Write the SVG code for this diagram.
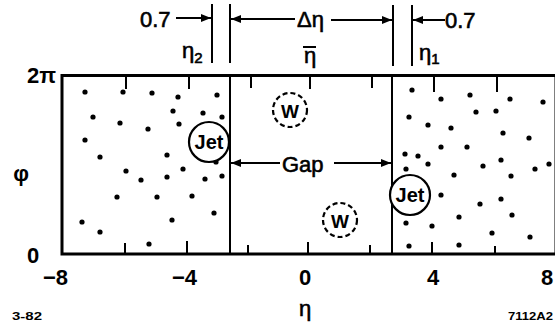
<svg xmlns="http://www.w3.org/2000/svg" width="555" height="328" viewBox="0 0 555 328">
<style>
.ln{stroke:#000;stroke-width:2;fill:none}
.bx{stroke:#000;stroke-width:3;fill:none}
.tk{stroke:#000;stroke-width:2}
.dot{fill:#000}
.t{font-family:"Liberation Sans",Arial,sans-serif;fill:#000}
.lbl{font-size:22px;stroke:#000;stroke-width:0.6}
.ax{font-size:22px;font-weight:bold}
.sm{font-size:11px;font-weight:bold}
.jet{stroke:#000;stroke-width:2.2;fill:#fff}
.w{stroke:#000;stroke-width:2.2;fill:none;stroke-dasharray:5 3}
</style>
<defs>
<marker id="ah" viewBox="0 0 10 8" refX="10" refY="4" markerWidth="10" markerHeight="8" markerUnits="userSpaceOnUse" orient="auto">
<path d="M0,0 L10,4 L0,8 Z" fill="#000"/>
</marker>
</defs>
<rect width="555" height="328" fill="#fff"/>

<g id="plot-frame">
<path class="bx" d="M557,75.5 H62 V254 H557"/>
<line class="bx" x1="556" y1="75.5" x2="556" y2="254"/>
<line class="ln" x1="230" y1="75" x2="230" y2="254"/>
<line class="ln" x1="392" y1="75" x2="392" y2="254"/>
<g id="ticks">
<line class="tk" x1="126" y1="76" x2="126" y2="89"/>
<line class="tk" x1="189" y1="76" x2="189" y2="89"/>
<line class="tk" x1="251" y1="76" x2="251" y2="88"/>
<line class="tk" x1="310" y1="76" x2="310" y2="89"/>
<line class="tk" x1="372" y1="76" x2="372" y2="88"/>
<line class="tk" x1="434" y1="76" x2="434" y2="92"/>
<line class="tk" x1="497" y1="76" x2="497" y2="92"/>
<line class="tk" x1="125" y1="253" x2="125" y2="243"/>
<line class="tk" x1="187" y1="253" x2="187" y2="241"/>
<line class="tk" x1="248" y1="253" x2="248" y2="245"/>
<line class="tk" x1="308" y1="253" x2="308" y2="242"/>
<line class="tk" x1="370" y1="253" x2="370" y2="245"/>
<line class="tk" x1="432" y1="253" x2="432" y2="242"/>
<line class="tk" x1="495" y1="253" x2="495" y2="246"/>
</g>
</g>

<g id="left-region">
<circle class="dot" cx="85" cy="92" r="2.6"/>
<circle class="dot" cx="123" cy="92" r="2.6"/>
<circle class="dot" cx="152" cy="93" r="2.6"/>
<circle class="dot" cx="178" cy="97" r="2.6"/>
<circle class="dot" cx="217" cy="95" r="2.6"/>
<circle class="dot" cx="93" cy="117" r="2.6"/>
<circle class="dot" cx="120" cy="123" r="2.6"/>
<circle class="dot" cx="148" cy="129" r="2.6"/>
<circle class="dot" cx="173" cy="111" r="2.6"/>
<circle class="dot" cx="179" cy="124" r="2.6"/>
<circle class="dot" cx="203" cy="113" r="2.6"/>
<circle class="dot" cx="222" cy="117" r="2.6"/>
<circle class="dot" cx="85" cy="140" r="2.6"/>
<circle class="dot" cx="100" cy="157" r="2.6"/>
<circle class="dot" cx="167" cy="155" r="2.6"/>
<circle class="dot" cx="126" cy="171" r="2.6"/>
<circle class="dot" cx="141" cy="180" r="2.6"/>
<circle class="dot" cx="167" cy="177" r="2.6"/>
<circle class="dot" cx="183" cy="169" r="2.6"/>
<circle class="dot" cx="205" cy="179" r="2.6"/>
<circle class="dot" cx="222" cy="176" r="2.6"/>
<circle class="dot" cx="216" cy="162" r="2.6"/>
<circle class="dot" cx="117" cy="197" r="2.6"/>
<circle class="dot" cx="157" cy="197" r="2.6"/>
<circle class="dot" cx="192" cy="196" r="2.6"/>
<circle class="dot" cx="214" cy="213" r="2.6"/>
<circle class="dot" cx="82" cy="222" r="2.6"/>
<circle class="dot" cx="100" cy="232" r="2.6"/>
<circle class="dot" cx="172" cy="220" r="2.6"/>
<circle class="dot" cx="149" cy="244" r="2.6"/>
</g>

<g id="right-region">
<circle class="dot" cx="412" cy="90" r="2.6"/>
<circle class="dot" cx="441" cy="99" r="2.6"/>
<circle class="dot" cx="470" cy="95" r="2.6"/>
<circle class="dot" cx="510" cy="99" r="2.6"/>
<circle class="dot" cx="543" cy="102" r="2.6"/>
<circle class="dot" cx="409" cy="117" r="2.6"/>
<circle class="dot" cx="428" cy="125" r="2.6"/>
<circle class="dot" cx="451" cy="128" r="2.6"/>
<circle class="dot" cx="476" cy="112" r="2.6"/>
<circle class="dot" cx="496" cy="111" r="2.6"/>
<circle class="dot" cx="503" cy="133" r="2.6"/>
<circle class="dot" cx="529" cy="138" r="2.6"/>
<circle class="dot" cx="441" cy="147" r="2.6"/>
<circle class="dot" cx="467" cy="147" r="2.6"/>
<circle class="dot" cx="405" cy="154" r="2.6"/>
<circle class="dot" cx="418" cy="156" r="2.6"/>
<circle class="dot" cx="428" cy="164" r="2.6"/>
<circle class="dot" cx="406" cy="169" r="2.6"/>
<circle class="dot" cx="454" cy="175" r="2.6"/>
<circle class="dot" cx="483" cy="166" r="2.6"/>
<circle class="dot" cx="501" cy="160" r="2.6"/>
<circle class="dot" cx="511" cy="176" r="2.6"/>
<circle class="dot" cx="535" cy="169" r="2.6"/>
<circle class="dot" cx="549" cy="164" r="2.6"/>
<circle class="dot" cx="441" cy="195" r="2.6"/>
<circle class="dot" cx="480" cy="204" r="2.6"/>
<circle class="dot" cx="501" cy="199" r="2.6"/>
<circle class="dot" cx="512" cy="215" r="2.6"/>
<circle class="dot" cx="459" cy="217" r="2.6"/>
<circle class="dot" cx="406" cy="223" r="2.6"/>
<circle class="dot" cx="432" cy="226" r="2.6"/>
<circle class="dot" cx="492" cy="233" r="2.6"/>
<circle class="dot" cx="530" cy="237" r="2.6"/>
<circle class="dot" cx="409" cy="246" r="2.6"/>
<circle class="dot" cx="459" cy="245" r="2.6"/>
</g>

<g id="jet-left">
<circle class="jet" cx="209" cy="142" r="20"/>
<text class="t" x="209" y="149" font-size="20" font-weight="bold" text-anchor="middle">Jet</text>
</g>
<g id="jet-right">
<circle class="jet" cx="410" cy="195" r="20"/>
<text class="t" x="410" y="202" font-size="20" font-weight="bold" text-anchor="middle">Jet</text>
</g>
<g id="w-upper">
<circle class="w" cx="290" cy="110" r="17"/>
<text class="t" x="290" y="118" font-size="19" font-weight="bold" text-anchor="middle">W</text>
</g>
<g id="w-lower">
<circle class="w" cx="340" cy="220" r="17"/>
<text class="t" x="340" y="228" font-size="19" font-weight="bold" text-anchor="middle">W</text>
</g>

<g id="connectors">
<line class="ln" x1="212" y1="4" x2="212" y2="63"/>
<line class="ln" x1="230" y1="4" x2="230" y2="63"/>
<line class="ln" x1="393" y1="5" x2="393" y2="66"/>
<line class="ln" x1="412" y1="5" x2="412" y2="66"/>
<line class="ln" x1="176" y1="18" x2="211" y2="18" marker-end="url(#ah)"/>
<line class="ln" x1="295" y1="19" x2="231" y2="19" marker-end="url(#ah)"/>
<line class="ln" x1="331" y1="20" x2="392" y2="20" marker-end="url(#ah)"/>
<line class="ln" x1="445" y1="20" x2="413" y2="20" marker-end="url(#ah)"/>
<line class="ln" x1="280" y1="163" x2="231" y2="163" marker-end="url(#ah)"/>
<line class="ln" x1="334" y1="163" x2="391" y2="163" marker-end="url(#ah)"/>
</g>

<g id="labels">
<text class="t lbl" x="140" y="27">0.7</text>
<text class="t lbl" x="297" y="27">Δη</text>
<text class="t lbl" x="445" y="28">0.7</text>
<text class="t lbl" x="182" y="58">η<tspan font-size="15" dy="5">2</tspan></text>
<text class="t lbl" x="310" y="63" text-anchor="middle">η</text>
<line x1="303" y1="47" x2="316" y2="47" stroke="#000" stroke-width="2"/>
<text class="t lbl" x="419" y="60">η<tspan font-size="15" dy="4">1</tspan></text>
<text class="t lbl" x="282" y="172">Gap</text>
<text class="t ax" x="27" y="83" font-size="19">2π</text>
<text class="t ax" x="27" y="263">0</text>
<text class="t ax" x="21" y="181" text-anchor="middle">φ</text>
<text class="t ax" x="43" y="285">−8</text>
<text class="t ax" x="172" y="285">−4</text>
<text class="t ax" x="305" y="285" text-anchor="middle">0</text>
<text class="t ax" x="433" y="285" text-anchor="middle">4</text>
<text class="t ax" x="541" y="285">8</text>
<text class="t lbl" x="305" y="316" text-anchor="middle">η</text>
<text class="t sm" x="12" y="320" textLength="30" lengthAdjust="spacingAndGlyphs">3-82</text>
<text class="t sm" x="508" y="320" textLength="45" lengthAdjust="spacingAndGlyphs">7112A2</text>
</g>
</svg>
